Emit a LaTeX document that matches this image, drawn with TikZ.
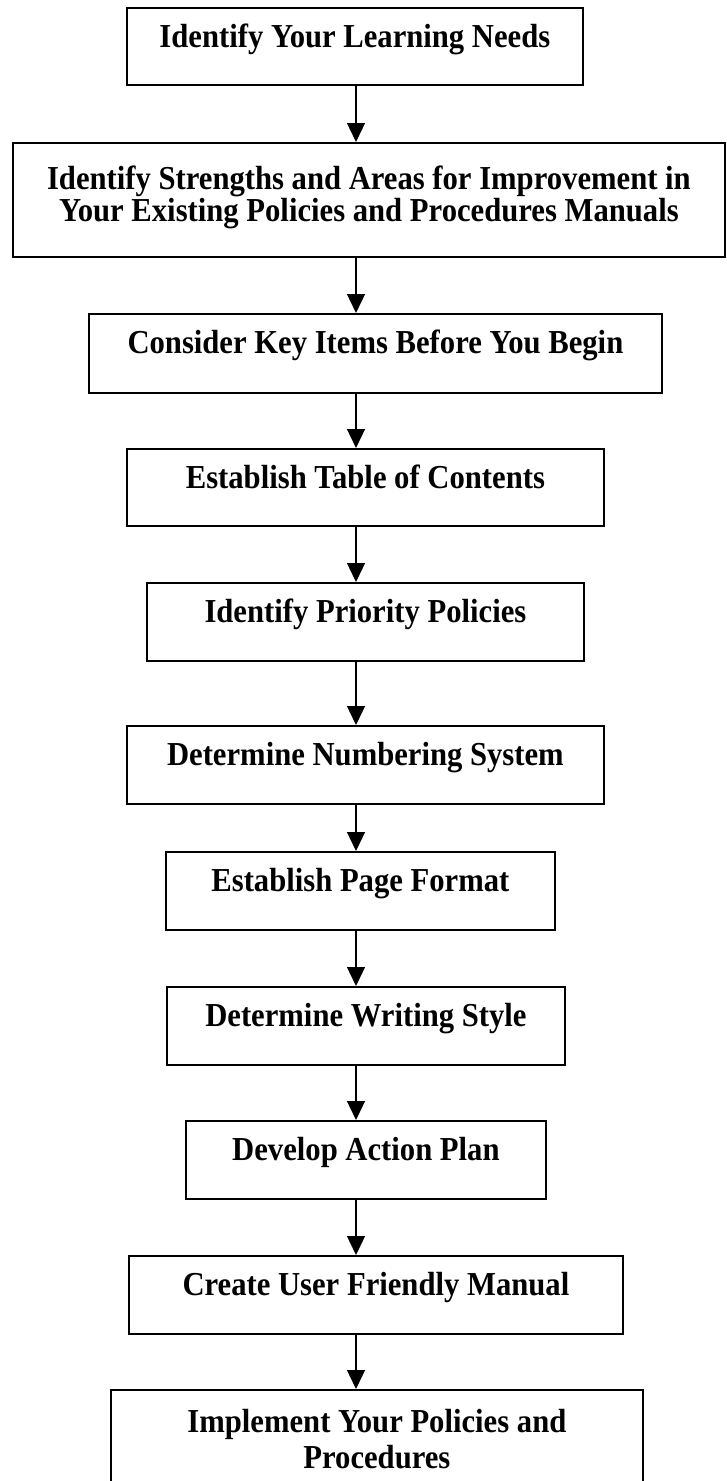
\documentclass[tikz,border=0pt]{standalone}
\usepackage{fontspec}
\setmainfont{Liberation Serif}[FakeStretch=0.915]
\usetikzlibrary{arrows.meta}

\tikzset{
  x=1pt, y=-1pt,
  stepbox/.style={draw=black, line width=1.8pt, inner sep=0pt, anchor=north west, fill=white},
  steptext/.style={anchor=north, inner sep=0pt, align=center,
    font=\fontsize{33.5}{34}\selectfont\bfseries},
  flow/.style={line width=1.3pt, -{Triangle[width=18pt,length=19pt]}}
}

\begin{document}
\begin{tikzpicture}
  \useasboundingbox (0,0) rectangle (727,1481);
  \clip (0,0) rectangle (727,1481);
  \fill[white] (0,0) rectangle (727,1481);

  % flowchart boxes
  \node[stepbox, minimum width=456pt, minimum height=77pt]  (b1)  at (126,7)    {};
  \node[stepbox, minimum width=712pt, minimum height=114pt] (b2)  at (12,142)   {};
  \node[stepbox, minimum width=573pt, minimum height=79pt]  (b3)  at (88,313)   {};
  \node[stepbox, minimum width=477pt, minimum height=77pt]  (b4)  at (126,448)  {};
  \node[stepbox, minimum width=437pt, minimum height=78pt]  (b5)  at (146,582)  {};
  \node[stepbox, minimum width=477pt, minimum height=78pt]  (b6)  at (126,725)  {};
  \node[stepbox, minimum width=389pt, minimum height=78pt]  (b7)  at (165,851)  {};
  \node[stepbox, minimum width=398pt, minimum height=78pt]  (b8)  at (166,986)  {};
  \node[stepbox, minimum width=360pt, minimum height=78pt]  (b9)  at (185,1120) {};
  \node[stepbox, minimum width=494pt, minimum height=78pt]  (b10) at (128,1255) {};
  \node[stepbox, minimum width=532pt, minimum height=120pt] (b11) at (110,1389) {};

  % labels, set near the top of each box
  \node[steptext] (t1)  at ([yshift=-17pt]b1.north)  {Identify Your Learning Needs};
  \node[steptext] (t2)  at ([yshift=-24pt]b2.north)  {Identify Strengths and Areas for Improvement in\\[-2pt]Your Existing Policies and Procedures Manuals};
  \node[steptext] (t3)  at ([yshift=-17pt]b3.north)  {Consider Key Items Before You Begin};
  \node[steptext] (t4)  at ([yshift=-17pt]b4.north)  {Establish Table of Contents};
  \node[steptext] (t5)  at ([yshift=-17pt]b5.north)  {Identify Priority Policies};
  \node[steptext] (t6)  at ([yshift=-17pt]b6.north)  {Determine Numbering System};
  \node[steptext] (t7)  at ([yshift=-17pt]b7.north)  {Establish Page Format};
  \node[steptext] (t8)  at ([yshift=-17pt]b8.north)  {Determine Writing Style};
  \node[steptext] (t9)  at ([yshift=-17pt]b9.north)  {Develop Action Plan};
  \node[steptext] (t10) at ([yshift=-17pt]b10.north) {Create User Friendly Manual};
  \node[steptext] (t11) at ([yshift=-20pt]b11.north) {Implement Your Policies and\\[2pt]Procedures};

  % vertical spine of the connectors
  \coordinate (spine) at (356,0);
  \foreach \a/\b in {b1/b2, b2/b3, b3/b4, b4/b5, b5/b6, b6/b7, b7/b8, b8/b9, b9/b10, b10/b11}
    \draw[flow] (\a.south -| spine) -- (\b.north -| spine);
\end{tikzpicture}
\end{document}
